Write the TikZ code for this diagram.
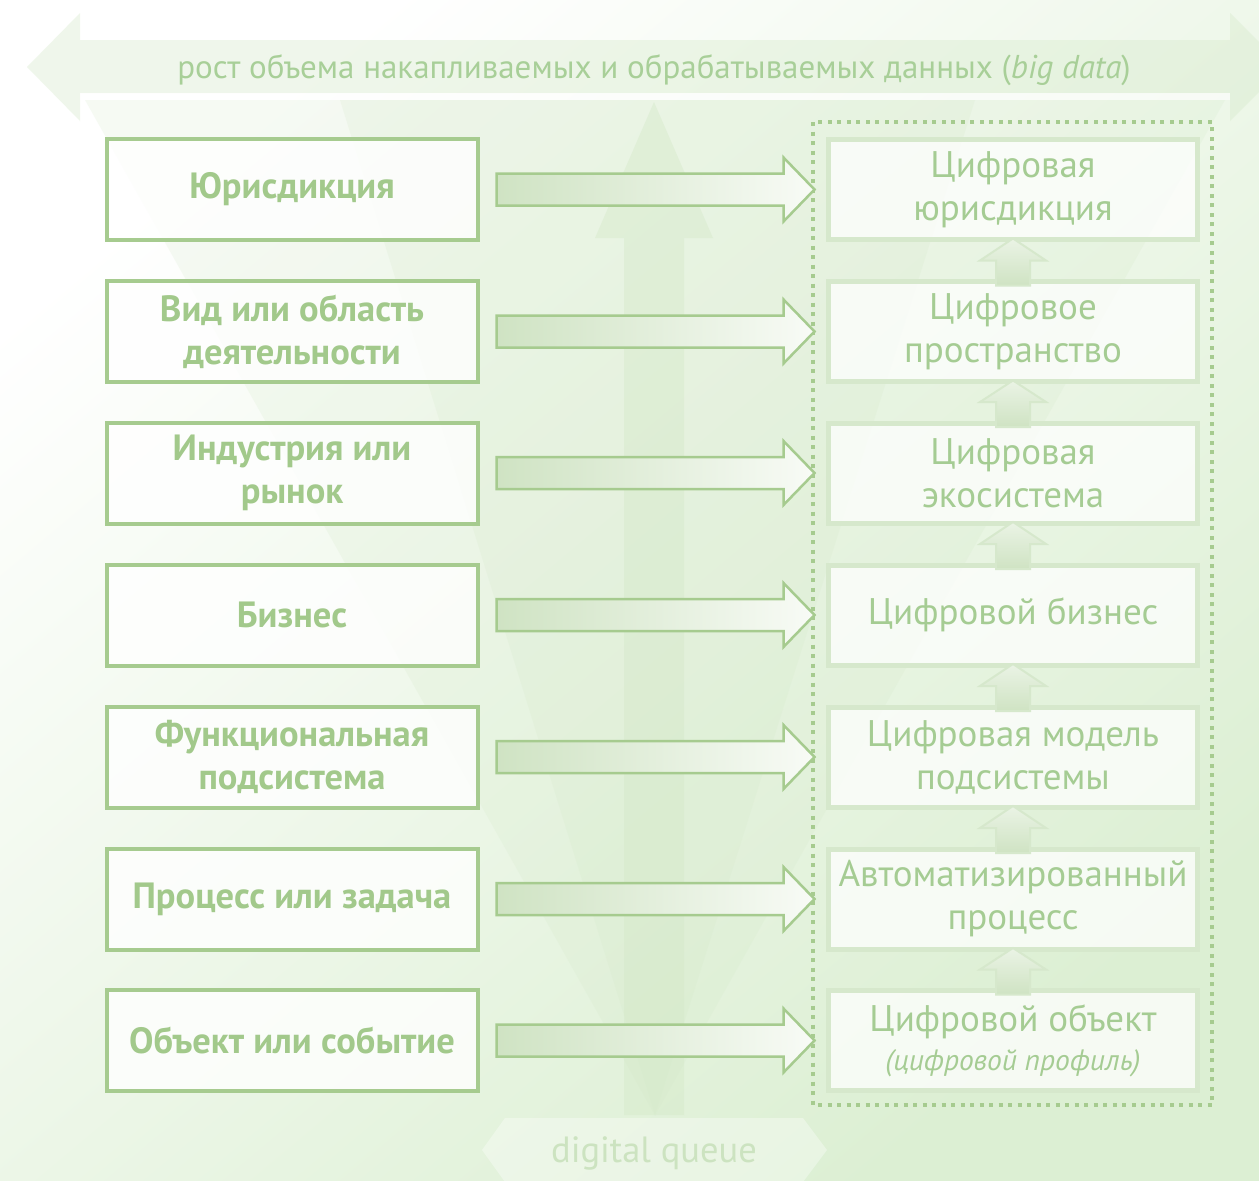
\documentclass[tikz,border=0pt]{standalone}
\usepackage{fontspec}
\setmainfont{PT Sans}
\usetikzlibrary{calc}
\definecolor{gborder}{HTML}{A6CB8F}
\definecolor{gtext}{HTML}{A2C98B}
\definecolor{rtext}{HTML}{A5CC93}
\definecolor{rborder}{HTML}{D6E8CC}
\definecolor{bgend}{HTML}{DCEFD3}
\definecolor{arrdark}{HTML}{CFE3C3}
\definecolor{arrlight}{HTML}{F8FBF6}
\definecolor{faint}{HTML}{D3E8C7}
\definecolor{qtext}{HTML}{CCE3C0}
\definecolor{bantext}{HTML}{A8CF98}
\tikzset{
  lbox/.style={draw=gborder, line width=4pt, fill=white, fill opacity=0.8, text opacity=1,
    minimum width=371pt, minimum height=101pt, align=center, text=gtext,
    font=\fontsize{36.5}{43}\selectfont\bfseries},
  rbox/.style={draw=rborder, line width=5pt, fill=white, fill opacity=0.75, text opacity=1,
    minimum width=369pt, minimum height=100pt, align=center, text=rtext,
    font=\fontsize{37}{43}\selectfont},
  harr/.style={draw=gborder, line width=2.5pt, left color=arrdark, right color=arrlight},
  varr/.style={draw=rborder, line width=2pt, bottom color=arrdark, top color=arrlight!60!rborder},
  frame/.style={draw=gborder, line width=4pt, dash pattern=on 4pt off 5.5pt},
  faintshape/.style={fill=faint, fill opacity=0.2, draw=none}
}
\begin{document}
\begin{tikzpicture}[x=1pt,y=-1pt]
\useasboundingbox (0,0) rectangle (1259,1181);
\shade[top color=white, bottom color=bgend, shading angle=40] (0,0) rectangle (1259,1181);
% funnel
\fill[faintshape] (85,100) -- (1225,100) -- (655,1115) -- cycle;
\fill[faintshape] (340,100) -- (975,100) -- (655,1115) -- cycle;
% top banner double arrow
\fill[fill=faint, fill opacity=0.35] (27,67) -- (80,13) -- (80,40) -- (1230,40) -- (1230,13) -- (1284,67) -- (1230,121) -- (1230,93) -- (80,93) -- (80,121) -- cycle;
\fill[white, opacity=0.6] (80,93) rectangle (1230,100);
\node[text=bantext, font=\fontsize{33}{38}\selectfont, anchor=base] (ban) at (654,78) {рост объема накапливаемых и обрабатываемых данных (\textit{big data})};
% vertical arrow
\fill[faintshape, fill opacity=0.4] (624,1115) -- (624,238) -- (595,238) -- (654,102) -- (713,238) -- (684,238) -- (684,1115) -- cycle;
% digital queue
\fill[white, opacity=0.35] (482,1150) -- (505,1118) -- (803,1118) -- (827,1150) -- (803,1182) -- (505,1182) -- cycle;
\node[text=qtext, font=\fontsize{36.5}{40}\selectfont, anchor=base] (dq) at (654,1162) {digital queue};
% left boxes
\node[lbox] (L1) at (292,189.5) {Юрисдикция};
\node[lbox] (L2) at (292,331.5) {Вид или область\\деятельности};
\node[lbox] (L3) at (292,473) {Индустрия или\\рынок};
\node[lbox] (L4) at (292,615) {Бизнес};
\node[lbox] (L5) at (292,757) {Функциональная\\подсистема};
\node[lbox] (L6) at (292,899) {Процесс или задача};
\node[lbox] (L7) at (292,1040.5) {Объект или событие};
% right boxes
\node[rbox] (R1) at (1013,189.5) {Цифровая\\юрисдикция};
\node[rbox] (R2) at (1013,331.5) {Цифровое\\пространство};
\node[rbox] (R3) at (1013,473) {Цифровая\\экосистема};
\node[rbox] (R4) at (1013,615) {Цифровой бизнес};
\node[rbox] (R5) at (1013,757) {Цифровая модель\\подсистемы};
\node[rbox] (R6) at (1013,899) {Автоматизированный\\процесс};
\node[rbox] (R7) at (1013,1040.5) {Цифровой объект\\[-4pt]{\fontsize{29.5}{34}\selectfont\itshape (цифровой профиль)}};
% dotted frame
\draw[frame] (813,122) rectangle (1212,1105);
% horizontal block arrows
\foreach \n in {1,...,7}{
  \path[harr] ($(L\n.east)+(17,-16)$) -- ++(287,0) -- ++(0,-16) -- ++(31,32) -- ++(-31,32) -- ++(0,-16) -- ++(-287,0) -- cycle;
}
% small up arrows
\foreach \lo/\hi in {2/1,3/2,4/3,5/4,6/5,7/6}{
  \path[varr] ($(R\lo.north)+(-17,6.5)$) -- ++(0,-25) -- ++(-16,0) -- ($(R\hi.south)+(0,-3.5)$) -- ($(R\lo.north)+(33,-18.5)$) -- ++(-16,0) -- ++(0,25) -- cycle;
}
\end{tikzpicture}
\end{document}
